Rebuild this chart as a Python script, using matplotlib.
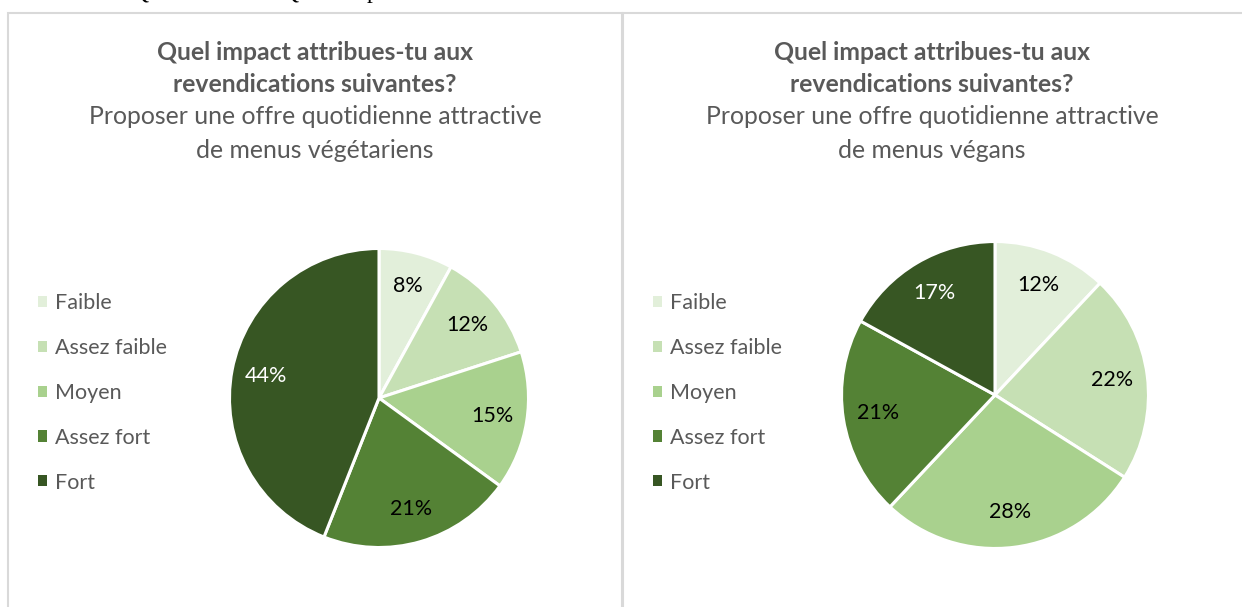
import matplotlib
matplotlib.use("Agg")
import matplotlib.pyplot as plt
from matplotlib.patches import Rectangle

W, H = 1242, 607
categories = ["Faible", "Assez faible", "Moyen", "Assez fort", "Fort"]
colors = ["#E2EFDA", "#C6E0B4", "#A9D18E", "#548235", "#375623"]
values_veg = [8, 12, 15, 21, 44]
values_vegan = [12, 22, 28, 21, 17]
title_bold = ["Quel impact attribues-tu aux", "revendications suivantes?"]
sub_veg = ["Proposer une offre quotidienne attractive", "de menus végétariens"]
sub_vegan = ["Proposer une offre quotidienne attractive", "de menus végans"]

FONT = "Lato"
GREY = "#595959"

fig = plt.figure(figsize=(W / 100, H / 100), dpi=100)
fig.patch.set_facecolor("white")

def fx(x):
    return x / W

def fy(y):
    return 1 - y / H

# panel borders
border = "#D9D9D9"
fig.patches.append(Rectangle((fx(8), fy(620)), fx(622) - fx(8), fy(13) - fy(620),
                             transform=fig.transFigure, fill=False, edgecolor=border, lw=1.5))
fig.patches.append(Rectangle((fx(623), fy(620)), fx(1250) - fx(623), fy(13) - fy(620),
                             transform=fig.transFigure, fill=False, edgecolor=border, lw=1.5))

# cut-off document text fragments at the very top
for x, s in [(132, "Q"), (282, "Q"), (367, "p")]:
    fig.text(fx(x), fy(-2), s, fontsize=17, family="Liberation Serif", color="black", va="baseline")

def panel(cx_panel, values, sub, pie_c, r, leg_x, white_idx):
    ys = [52, 84, 117, 150]
    lines = title_bold + sub
    for i, (y, s) in enumerate(zip(ys, lines)):
        fig.text(fx(cx_panel), fy(y), s, ha="center", va="center", fontsize=17.8,
                 fontweight="bold" if i < 2 else "normal", family=FONT, color=GREY)
    cx, cy = pie_c
    ax = fig.add_axes([fx(cx - r), fy(cy + r), 2 * r / W, 2 * r / H])
    wedges, _, autotexts = ax.pie(values, colors=colors, startangle=90, counterclock=False,
                                  autopct="%1.0f%%", pctdistance=0.77, radius=1,
                                  wedgeprops=dict(edgecolor="white", linewidth=2.2),
                                  textprops=dict(fontsize=15.5, family=FONT, color="black"))
    for i in white_idx:
        autotexts[i].set_color("white")
    ax.set_xlim(-1.01, 1.01)
    ax.set_ylim(-1.01, 1.01)
    ax.set_aspect("equal")
    ax.axis("off")
    leg = fig.legend(wedges, categories, loc="center left",
                     bbox_to_anchor=(fx(leg_x), fy(393)), frameon=False,
                     handlelength=0.42, handleheight=0.42, handletextpad=0.38,
                     labelspacing=1.15, borderaxespad=0, borderpad=0,
                     prop=dict(family=FONT, size=15.5))
    for t in leg.get_texts():
        t.set_color(GREY)
    for h in leg.legend_handles:
        h.set_edgecolor("none")

panel(315, values_veg, sub_veg, (379, 398), 151, 38, [4])
panel(932, values_vegan, sub_vegan, (995, 395), 155, 653, [4])

fig.savefig("out.png", dpi=100, facecolor="white")
